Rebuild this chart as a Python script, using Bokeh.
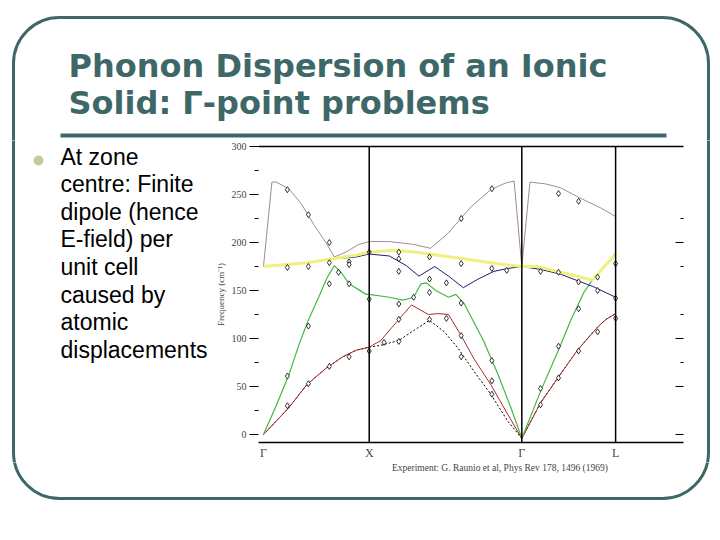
from bokeh.plotting import figure
from bokeh.layouts import column, row
from bokeh.models import (Range1d, LinearAxis, FixedTicker, Span, Label,
                          BoxAnnotation, Legend, LegendItem)
from bokeh.embed import file_html
from bokeh.resources import INLINE

# ---------------- data ----------------
path_pos = [0.0, 1.0, 2.443, 3.33]
path_labels = ["Γ", "X", "Γ", "L"]

y_major = [0, 50, 100, 150, 200, 250, 300]
y_minor = [25, 75, 125, 175, 225, 275]
r_major = [0, 50, 100, 200]
r_minor = [75, 125, 175, 225]

# LO branch (grey)
lo_x = [0.0, 0.08, 0.12, 0.24, 0.36, 0.48, 0.59, 0.67, 0.78, 0.90, 1.0, 1.19, 1.42,
        1.58, 1.75, 1.82, 1.96, 2.15, 2.29, 2.37, 2.443, 2.52, 2.67, 2.81, 3.0, 3.19, 3.33]
lo_y = [175, 263, 263, 256, 240, 218, 200, 185, 190, 198, 201, 201, 198,
        194, 210, 219, 237, 255, 262, 264, 175, 263, 261, 257, 246, 236, 227]

# TO branch 1 (yellow)
to1_x = [0.0, 0.41, 0.66, 0.88, 1.0, 1.25, 1.44, 1.70, 1.96, 2.27, 2.443, 2.59, 2.81, 3.07, 3.11, 3.33]
to1_y = [175, 179, 183, 187, 190, 192, 190, 186, 182, 177, 175, 175, 169, 162, 161, 188]

# TO branch 2 (navy)
to2_x = [0.0, 0.41, 0.66, 0.88, 1.0, 1.19, 1.35, 1.47, 1.62, 1.75, 1.89, 2.03, 2.18, 2.31,
         2.443, 2.62, 2.81, 3.0, 3.12, 3.33]
to2_y = [175, 179, 183, 185, 188, 186, 176, 165, 175, 165, 153, 162, 170, 173,
         175, 172, 167, 159, 154, 143]

# LA branch (green)
la_x = [0.0, 0.12, 0.24, 0.34, 0.42, 0.53, 0.60, 0.67, 0.74, 0.81, 0.97, 1.0, 1.19, 1.32,
        1.42, 1.49, 1.54, 1.63, 1.75, 1.82, 1.90, 1.99, 2.08, 2.22, 2.34, 2.443,
        2.62, 2.79, 2.91, 3.03, 3.11, 3.22, 3.33]
la_y = [0, 30, 62, 95, 118, 145, 163, 176, 168, 157, 146, 146, 143, 140,
        143, 157, 158, 150, 143, 146, 136, 117, 98, 62, 28, -4,
        45, 88, 120, 148, 161, 175, 188]

# TA branch 1 (dark red)
ta1_x = [0.0, 0.24, 0.41, 0.59, 0.75, 0.88, 1.0, 1.11, 1.28, 1.40, 1.56, 1.65, 1.75, 1.87,
         1.99, 2.15, 2.31, 2.443, 2.62, 2.79, 2.97, 3.16, 3.24, 3.33]
ta1_y = [0, 28, 52, 69, 81, 88, 91, 98, 120, 135, 125, 126, 125, 103,
         79, 52, 21, -4, 33, 60, 88, 112, 120, 126]

# TA branch 2 (black, dotted)
ta2_x = [0.0, 0.24, 0.41, 0.59, 0.75, 0.88, 1.0, 1.11, 1.28, 1.43, 1.57, 1.71, 1.84, 1.99,
         2.15, 2.31, 2.443, 2.62, 2.79, 2.97, 3.16, 3.24, 3.33]
ta2_y = [0, 28, 52, 69, 81, 88, 91, 93, 98, 109, 119, 107, 90, 66,
         42, 14, -4, 33, 60, 88, 112, 120, 126]

# Experiment (Raunio et al.)
exp_x = [0.226, 0.226, 0.226, 0.226, 0.425, 0.425, 0.425, 0.425, 0.623, 0.623, 0.623, 0.623,
         0.71, 0.81, 0.81, 0.81, 0.81, 1.0, 1.0, 1.0, 1.14,
         1.28, 1.28, 1.28, 1.28, 1.28, 1.28, 1.42, 1.57, 1.57, 1.57, 1.57, 1.73, 1.73,
         1.87, 1.87, 1.87, 1.87, 1.87, 2.16, 2.16, 2.16, 2.16, 2.16, 2.30,
         2.62, 2.62, 2.62, 2.79, 2.79, 2.79, 2.79, 2.98, 2.98, 2.98, 2.98,
         3.16, 3.16, 3.16, 3.33, 3.33, 3.33]
exp_y = [255, 174, 61, 30, 229, 175, 113, 53, 200, 179, 157, 71,
         169, 180, 177, 157, 81, 190, 141, 87, 96,
         190, 183, 170, 136, 120, 97, 143, 185, 162, 148, 120, 158, 121,
         225, 178, 137, 103, 81, 256, 173, 77, 56, 42, 171,
         170, 48, 31, 251, 169, 92, 59, 243, 159, 131, 87,
         164, 150, 107, 178, 142, 121]

legend_text = "Experiment: G. Raunio et al, Phys Rev 178, 1496 (1969)"
title_lines = ["Phonon Dispersion of an Ionic", "Solid: Γ-point problems"]
bullet_lines = ["At zone", "centre: Finite", "dipole (hence", "E-field) per",
                "unit cell", "caused by", "atomic", "displacements"]

TEAL = "#3e6868"
PAGE_W, PAGE_H = 720, 540
TOP_H, MID_H = 140, 322        # page bands: 0-140, 140-462, 462-540
LEFT_W, CHART_W = 212, 478     # columns: 0-212, 212-690, 690-720


def deco(x0, y0, w, h):
    """A bare figure whose data units are page pixels (y downwards)."""
    f = figure(width=w, height=h, x_range=Range1d(x0, x0 + w), y_range=Range1d(y0 + h, y0),
               output_backend="svg", toolbar_location=None, min_border=0,
               x_axis_location=None, y_axis_location=None, frame_align=False)
    f.grid.visible = False
    f.outline_line_color = None
    f.background_fill_color = "white"
    f.border_fill_color = "white"
    # slide frame: rounded rectangle, each band shows its own part
    f.add_layout(BoxAnnotation(left=13, right=708, top=17, bottom=498, fill_color=None,
                               line_color=TEAL, line_alpha=1, line_width=3,
                               border_radius=46))
    return f


# ---------------- top band: title ----------------
top = deco(0, 0, PAGE_W, TOP_H)
for i, t in enumerate(title_lines):
    top.add_layout(Label(x=68, y=65 + 37 * i, text=t, text_font="DejaVu Sans",
                         text_font_style="bold", text_font_size="32px",
                         text_color=TEAL, text_baseline="alphabetic"))
top.add_layout(BoxAnnotation(left=60, right=666, top=133, bottom=137,
                             fill_color=TEAL, fill_alpha=1, line_color=None))

# ---------------- left column: bullet text ----------------
left = deco(0, TOP_H, LEFT_W, MID_H)
left.add_layout(BoxAnnotation(left=33, right=43, top=155, bottom=165, fill_color="#c8c8a0",
                              fill_alpha=1, line_color=None, border_radius=5))
for i, t in enumerate(bullet_lines):
    left.add_layout(Label(x=60, y=156 + 27.6 * i, text=t, text_font="Liberation Sans",
                          text_font_size="23px", text_color="black",
                          text_baseline="alphabetic"))

# ---------------- chart ----------------
p = figure(width=CHART_W, height=MID_H, output_backend="svg", toolbar_location=None,
           x_range=Range1d(-0.047, 3.972), y_range=Range1d(-8.25, 300),
           min_border_left=45, min_border_right=7, min_border_top=6,
           min_border_bottom=17, frame_align=False)
p.grid.visible = False
p.outline_line_color = None
p.background_fill_color = "white"
p.border_fill_color = "white"

ya = p.yaxis[0]
ya.ticker = FixedTicker(ticks=y_major, minor_ticks=y_minor)
ya.axis_line_color = None
ya.major_tick_out = 9
ya.major_tick_in = 0
ya.minor_tick_out = 4
ya.minor_tick_in = 0
ya.major_label_text_font = "Liberation Serif"
ya.major_label_text_font_size = "10px"
ya.major_label_standoff = 3
ya.axis_label = "Frequency (cm⁻¹)"
ya.axis_label_text_font = "Liberation Serif"
ya.axis_label_text_font_style = "normal"
ya.axis_label_text_font_size = "9px"
ya.axis_label_standoff = 3

xa = p.xaxis[0]
xa.ticker = FixedTicker(ticks=path_pos)
xa.major_label_overrides = {pos: lab for pos, lab in zip(path_pos, path_labels)}
xa.major_tick_out = 0
xa.major_tick_in = 0
xa.minor_tick_out = 0
xa.minor_tick_in = 0
xa.axis_line_width = 1.5
xa.major_label_text_font = "Liberation Serif"
xa.major_label_text_font_size = "12px"
xa.major_label_standoff = 3

top_axis = LinearAxis(ticker=FixedTicker(ticks=[]), axis_line_width=1.5,
                      major_tick_out=0, major_tick_in=0, minor_tick_out=0,
                      minor_tick_in=0, major_label_standoff=0)
p.add_layout(top_axis, "above")

right_axis = LinearAxis(ticker=FixedTicker(ticks=r_major, minor_ticks=r_minor),
                        axis_line_color=None, major_tick_in=8, major_tick_out=0,
                        minor_tick_in=3, minor_tick_out=0, major_label_standoff=0,
                        major_label_overrides={t: "" for t in r_major})
p.add_layout(right_axis, "right")

for pos in path_pos[1:]:
    p.add_layout(Span(location=pos, dimension="height", line_color="black", line_width=1.5))

p.line(ta2_x, ta2_y, line_color="black", line_width=1, line_dash="2 2")
p.line(ta1_x, ta1_y, line_color="#a82c2c", line_width=1)
p.line(la_x, la_y, line_color="#44b844", line_width=1.2)
p.line(to2_x, to2_y, line_color="#1e1e6e", line_width=1)
p.line(lo_x, lo_y, line_color="#a08a96", line_width=1)
p.line(to1_x, to1_y, line_color="#f0f07c", line_width=3)
p.scatter(exp_x, exp_y, marker="diamond", size=6, fill_color="white",
          line_color="black", line_width=0.8)

# ---------------- right column & bottom band ----------------
right = deco(LEFT_W + CHART_W, TOP_H, PAGE_W - LEFT_W - CHART_W, MID_H)
bottom = deco(0, TOP_H + MID_H, PAGE_W, PAGE_H - TOP_H - MID_H)

# legend key for the experimental points (same marker style as in the chart)
key_r = bottom.scatter([], [], marker="diamond", size=6, fill_color="white",
                       line_color="black", line_width=0.8)
legend = Legend(items=[LegendItem(label=legend_text, renderers=[key_r])],
                location=(372, PAGE_H - 473), padding=0, margin=0, spacing=0,
                glyph_width=10, glyph_height=10, label_height=10, label_standoff=10,
                label_text_font="Liberation Serif", label_text_font_size="9.5px",
                border_line_color=None, background_fill_alpha=0)
bottom.add_layout(legend)

page = column(top, row(left, p, right), bottom)
open("out.html", "w").write(file_html(page, INLINE))
